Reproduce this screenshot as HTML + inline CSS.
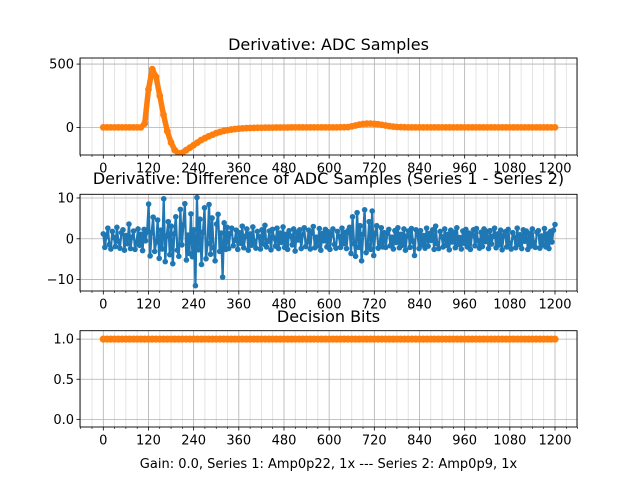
<!DOCTYPE html>
<html><head><meta charset="utf-8"><style>
body{margin:0;background:#fff}
svg text{font-family:"DejaVu Sans","Liberation Sans",sans-serif;fill:#000}
</style></head><body>
<svg id="fig" width="640" height="480" viewBox="0 0 640 480" xmlns="http://www.w3.org/2000/svg"></svg>
<script>
const xTicks=[0,120,240,360,480,600,720,840,960,1080,1200];
const adcSeries=[0,0,0,0,0,0,0,0,0,0,0,
30,300,460,400,250,100,-30,-120,-180,-205,-200,-180,-160,-140,-120,-100,-85,-70,-58,-45,-36,-28,-22,-17,-13,-10,-8,-6,-5,
-4,-3,-3,-2,-2,-2,-1,-1,-1,-1,0,0,0,0,0,0,0,0,0,0,0,0,0,1,1,
2,8,15,22,27,30,30,28,25,20,15,10,6,3,
2,1,0,0,0,0,0,0,0,0,0,0,0,0,0,0,0,0,0,0,0,0,0,0,0,0,0,0,0,0,0,0,0,0,0,0,0,0,0,0,0,0];
const diffSeries=[1.2,-2.1,0.5,2.6,-1.4,-2.5,1.8,0.3,-1.9,2.8,-0.6,-2.3,1.5,2.2,-2.8,0.8,-1.2,3.6,-2.4,0.4,1.9,-2.6,-0.8,2.4,-1.6,1.1,-2.9,2.3,-0.5,1.7,
8.5,-4.2,1.5,5.3,-3.1,-0.8,4.6,-4.8,2.1,-2.5,9.8,-5.6,0.7,4.2,-3.9,3.1,-6.1,1.2,5.4,-2.8,-4.3,7.2,-1.5,3.4,8.6,-5.2,0.9,-3.6,6.1,-4.4,2.2,-11.5,10.1,-2.7,4.8,-6.3,1.6,7.6,-4.9,-1.2,8.4,-3.8,5.1,-2.2,-5.4,3.6,6.0,-3.1,1.4,-9.4,3.9,-2.6,2.8,
-2.4,1.3,2.6,-1.7,-0.4,2.1,-2.6,1.5,-1.1,3.1,-2.2,0.6,2.4,-2.8,1.2,-1.6,2.9,-0.7,-2.3,1.8,0.5,-2.5,2.2,-1.3,3.3,-2.0,-0.6,1.9,-2.7,2.3,0.2,-1.8,2.6,-2.4,1.4,-0.9,2.9,-2.1,1.1,-2.6,2.0,0.7,-1.5,2.4,-3.0,1.6,-0.3,2.2,-2.4,1.0,2.7,-1.9,-0.8,2.1,-2.5,1.4,3.0,-2.2,0.4,-1.7,2.5,-2.8,1.3,-0.5,2.3,-2.0,1.7,-2.6,0.9,2.4,-1.4,-2.3,1.8,0.6,-2.1,2.6,-1.2,1.5,-2.4,2.0,
2.8,-3.6,5.4,-1.2,-4.3,6.4,-2.1,3.2,-5.4,1.1,7.1,-3.4,-1.6,4.2,-2.6,6.8,-4.1,1.3,3.2,-2.3,-1.1,2.7,-2.0,1.5,
-2.1,1.4,2.3,-1.7,0.4,-2.5,2.0,-0.9,2.7,-2.2,1.1,-1.6,2.4,-2.8,0.7,1.9,-2.1,2.5,-0.6,-4.1,2.2,1.2,-2.4,2.0,-1.5,0.8,-2.3,2.6,-1.8,1.3,-0.4,2.2,-2.6,3.1,-1.2,-2.4,1.8,0.5,-2.0,2.4,-1.6,1.1,-2.7,2.1,-0.8,1.6,-2.2,2.7,-1.4,0.3,-2.5,1.9,-1.1,2.3,-2.0,1.4,-2.6,0.9,2.2,-1.7,2.5,-0.5,-2.3,1.6,-1.9,2.4,-0.7,1.8,-2.4,2.0,-1.3,0.6,2.6,-2.2,1.2,-1.5,2.1,-2.7,0.8,1.7,-2.0,2.3,-1.1,-2.5,1.5,0.4,-2.2,2.6,-1.4,1.0,-2.4,2.2,-0.6,1.9,-2.6,1.3,-1.8,2.4,-0.9,-2.1,1.6,2.0,-2.3,0.7,-1.5,2.5,-2.0,1.2,-2.4,1.8,-0.8,2.1,3.5];
const decisionBits=Array(121).fill(1);
const topYTicks=[0,500], topYLabels=["0","500"];
const midYTicks=[-10,0,10], midYLabels=["\u221210","0","10"];
const botYTicks=[0,0.5,1], botYLabels=["0.0","0.5","1.0"];

const NS="http://www.w3.org/2000/svg";
const svg=document.getElementById('fig');
function mk(tag,attrs,parent){const e=document.createElementNS(NS,tag);for(const k in attrs)e.setAttribute(k,attrs[k]);(parent||svg).appendChild(e);return e;}
const L=80,R=577;
const xs=v=>103.3+(v)*(555-103.3)/1200;

function panel(name,top,bot,yMin,yMax,yt,yl,title,titleY){
  const g=mk('g',{});
  
  
  const ys=v=>bot-(v-yMin)/(yMax-yMin)*(bot-top);
  for(let v=-60;v<=1260;v+=30){if(v%120===0)continue;const x=xs(v);
    const l=mk('line',{x1:x,x2:x,y1:top,y2:bot,stroke:'#dddddd','stroke-width':0.8},g);
    
    mk('line',{x1:x,x2:x,y1:bot,y2:bot+2,stroke:'#000','stroke-width':0.6},g);}
  xTicks.forEach(v=>{const x=xs(v);
    const l=mk('line',{x1:x,x2:x,y1:top,y2:bot,stroke:'#b0b0b0','stroke-width':0.8},g);
    
    mk('line',{x1:x,x2:x,y1:bot,y2:bot+3.5,stroke:'#000','stroke-width':0.8},g);
    const t=mk('text',{x:x,y:bot+17.5,'text-anchor':'middle','font-size':13},g);t.textContent=v;
    });
  yt.forEach((v,i)=>{const y=ys(v);
    mk('line',{x1:L,x2:R,y1:y,y2:y,stroke:'#b0b0b0','stroke-width':0.8},g);
    mk('line',{x1:L-3.5,x2:L,y1:y,y2:y,stroke:'#000','stroke-width':0.8},g);
    const t=mk('text',{x:L-6,y:y+4.5,'text-anchor':'end','font-size':13},g);t.textContent=yl[i];
    });
  const tt=mk('text',{x:328.5,y:titleY,'text-anchor':'middle','font-size':16},g);tt.textContent=title;
  
  return {g,ys,top,bot};
}
function series(p,arr,color,lw,r,name){
  const step=1200/(arr.length-1);
  const pts=arr.map((v,i)=>[xs(i*step),p.ys(v)]);
  const cg=mk('g',{'clip-path':'url(#c'+name+')'},p.g);
  const pl=mk('polyline',{points:pts.map(q=>q.join(',')).join(' '),fill:'none',stroke:color,'stroke-width':lw,'stroke-linejoin':'round'},cg);
  
  pts.forEach(q=>{const c=mk('circle',{cx:q[0],cy:q[1],r:r,fill:color},cg);
    });
}
const defs=mk('defs',{});
function clip(id,top,bot){const c=mk('clipPath',{id:id},defs);mk('rect',{x:L,y:top,width:R-L,height:bot-top},c);}
function frame(p){const f=mk('rect',{x:L,y:p.top,width:R-L,height:p.bot-p.top,fill:'none',stroke:'#000','stroke-width':0.9},p.g);
  }

const p1=panel('adc',58,155,-218,548,topYTicks,topYLabels,'Derivative: ADC Samples',50);
clip('cadc1',58,155);clip('cadc2',58,155);
series(p1,adcSeries,'#1f77b4',1.5,3,'adc1');
series(p1,adcSeries,'#ff7f0e',5.5,3.4,'adc2');
frame(p1);
const p2=panel('diff',194.3,291,-12.8,10.9,midYTicks,midYLabels,'Derivative: Difference of ADC Samples (Series 1 - Series 2)',184);
clip('cdiff',194.3,291);
series(p2,diffSeries,'#1f77b4',2.2,2.8,'diff');
frame(p2);
const p3=panel('bits',330.7,427,-0.095,1.105,botYTicks,botYLabels,'Decision Bits',322);
clip('cbits1',330.7,427);clip('cbits2',330.7,427);
series(p3,decisionBits,'#1f77b4',1.5,3,'bits1');
series(p3,decisionBits,'#ff7f0e',6,3.6,'bits2');
frame(p3);
const xl=mk('text',{x:328.5,y:468,'text-anchor':'middle','font-size':13});
xl.textContent='Gain: 0.0, Series 1: Amp0p22, 1x --- Series 2: Amp0p9, 1x';


</script>
</body></html>
